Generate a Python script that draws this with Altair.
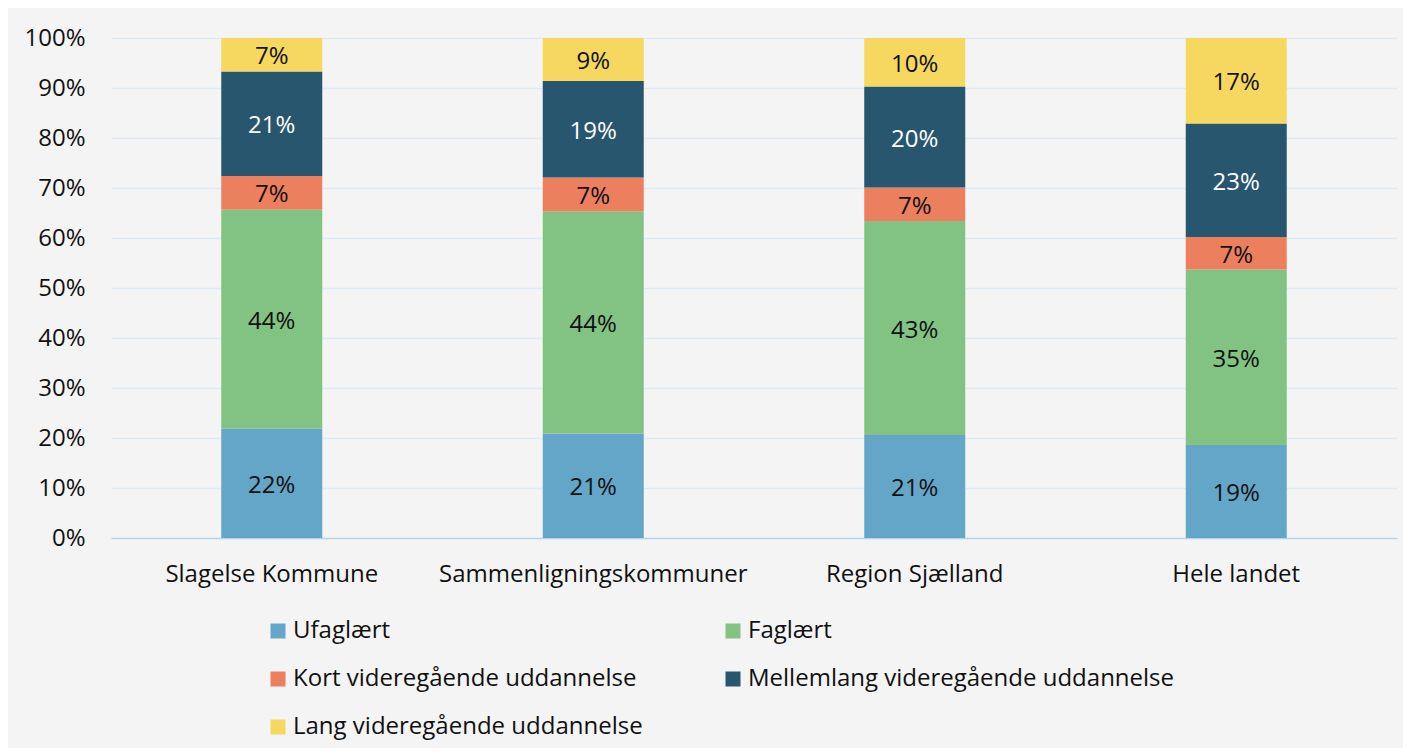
import altair as alt
import pandas as pd

categories = ["Slagelse Kommune", "Sammenligningskommuner", "Region Sjælland", "Hele landet"]
series = ["Ufaglært", "Faglært", "Kort videregående uddannelse",
          "Mellemlang videregående uddannelse", "Lang videregående uddannelse"]
ufaglaert = [21.9, 20.9, 20.6, 18.6]
faglaert = [43.8, 44.4, 42.8, 35.1]
kort = [6.7, 6.8, 6.7, 6.5]
mellemlang = [20.9, 19.3, 20.2, 22.7]
lang = [6.7, 8.6, 9.7, 17.1]
colors = ["#63a6c8", "#82c282", "#ec7f5e", "#27566e", "#f6d860"]
label_colors = ["#111111", "#111111", "#111111", "#ffffff", "#111111"]
y_ticks = [0, 10, 20, 30, 40, 50, 60, 70, 80, 90, 100]

rows = []
for si, (name, vals) in enumerate(zip(series, [ufaglaert, faglaert, kort, mellemlang, lang])):
    for ci, cat in enumerate(categories):
        rows.append({"cat": cat, "serie": name, "value": vals[ci], "idx": si,
                     "lc": label_colors[si]})
df = pd.DataFrame(rows)

FONT = "Open Sans"
FS = 24

base = alt.Chart(df).transform_stack(
    stack="value", groupby=["cat"], as_=["y0", "y1"],
    sort=[alt.SortField("idx", order="ascending")]
).transform_calculate(
    mid="(datum.y0 + datum.y1) / 2",
    label="format(datum.value, '.0f') + '%'"
)

xenc = alt.X("cat:N", sort=categories, title=None,
             scale=alt.Scale(paddingInner=0.686, paddingOuter=0.343),
             axis=alt.Axis(labelAngle=0, labelFontSize=FS, labelFont=FONT,
                           labelColor="#111111", labelPadding=24, labelLimit=0,
                           ticks=False, tickSize=0,
                           domainColor="#b8d5e8", domainWidth=1.5, grid=False))

bars = base.mark_bar(size=101).encode(
    x=xenc,
    y=alt.Y("y0:Q", title=None,
            scale=alt.Scale(domain=[0, 100], nice=False),
            axis=alt.Axis(values=y_ticks, labelExpr="datum.value + '%'",
                          labelFontSize=FS, labelFont=FONT, labelColor="#111111",
                          labelPadding=26, ticks=False, tickSize=0, domain=False,
                          gridColor="#dfeaf4", gridWidth=1.5)),
    y2="y1:Q",
    color=alt.Color("serie:N", sort=series,
                    scale=alt.Scale(domain=series, range=colors),
                    legend=alt.Legend(title=None, orient="none", legendX=155, legendY=581,
                                      columns=2, direction="horizontal",
                                      symbolType="square", symbolSize=225,
                                      symbolStrokeWidth=0, labelFontSize=FS,
                                      labelFont=FONT, labelColor="#111111",
                                      labelOffset=3, rowPadding=24, columnPadding=78,
                                      gridAlign="each", labelLimit=600)),
    order=alt.Order("idx:Q", sort="ascending"),
)

texts = base.mark_text(fontSize=FS, font=FONT, baseline="middle", align="center", dy=2.5).encode(
    x=alt.X("cat:N", sort=categories),
    y=alt.Y("mid:Q"),
    text="label:N",
    color=alt.Color("lc:N", scale=None),
)

chart = alt.layer(bars, texts).properties(
    width=1286, height=500,
    background="#f4f4f4",
    padding={"left": 103, "top": 30, "right": 6, "bottom": 210},
    autosize=alt.AutoSizeParams(type="none"),
).configure_view(stroke=None)

chart.save("out.html", embed_options={"renderer": "svg", "actions": False})
